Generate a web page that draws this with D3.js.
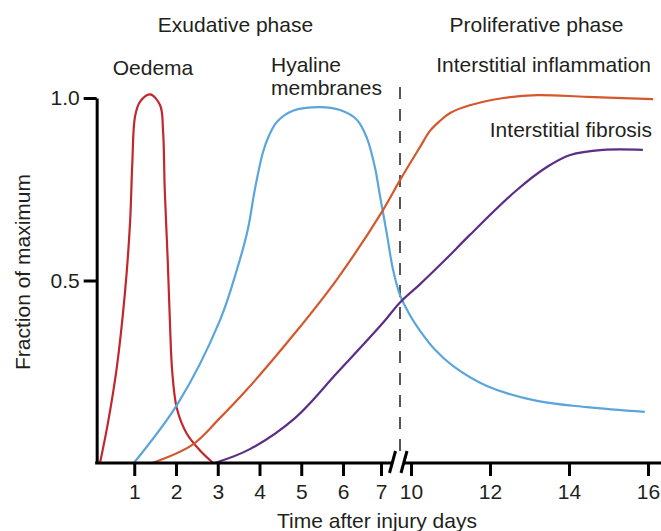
<!DOCTYPE html>
<html>
<head>
<meta charset="utf-8">
<title>Lung injury phases</title>
<script src="https://d3js.org/d3.v7.min.js"></script>
<style>
    body { margin: 0; background: #fff; }
    svg { display: block; font-family: "Liberation Sans", Arial, sans-serif; }
</style>
</head>
<body>
<script>

    // values: day after injury, fraction of maximum
    var oedemaDays = [0.18, 0.37, 0.58, 0.78, 0.90, 0.953, 1.02, 1.14, 1.38, 1.62, 1.69, 1.73, 1.80, 1.856, 1.91, 2.02, 2.26, 2.57, 2.89];
    var oedemaVals = [0, 0.11, 0.26, 0.47, 0.66, 0.82, 0.95, 0.99, 1.01, 0.98, 0.91, 0.75, 0.56, 0.38, 0.25, 0.15, 0.08, 0.035, 0];

    var hyalineDays = [0.99, 2.05, 3.05, 3.46, 3.72, 3.89, 4.08, 4.22, 4.42, 4.80, 5.45, 5.93, 6.37, 6.63, 6.84, 6.97, 7.6, 8.2, 8.9, 9.9, 10.23, 10.61, 11.06, 11.92, 13.19, 14.46, 15.92];
    var hyalineVals = [0, 0.164, 0.39, 0.53, 0.64, 0.75, 0.85, 0.895, 0.935, 0.965, 0.975, 0.967, 0.94, 0.89, 0.81, 0.734, 0.625, 0.53, 0.46, 0.405, 0.362, 0.31, 0.266, 0.211, 0.17, 0.153, 0.14];

    var inflamDays = [1.43, 2.38, 3.05, 3.65, 4.85, 5.86, 7.2, 8.9, 10.23, 10.48, 10.73, 10.99, 11.49, 12.34, 13.19, 14.46, 16.13];
    var inflamVals = [0, 0.049, 0.123, 0.195, 0.356, 0.504, 0.693, 0.775, 0.866, 0.91, 0.937, 0.959, 0.98, 1.0, 1.008, 1.003, 0.997];

    var fibrosisDays = [2.93, 3.77, 4.85, 5.86, 7.2, 8.9, 10.23, 10.86, 11.49, 12.68, 13.44, 14.03, 14.86, 15.87];
    var fibrosisVals = [0, 0.038, 0.123, 0.247, 0.384, 0.44, 0.49, 0.556, 0.625, 0.748, 0.811, 0.844, 0.858, 0.858];

    var xTicks = [1, 2, 3, 4, 5, 6, 7, 10, 12, 14, 16];
    var yTicks = [0.5, 1.0];

    var phaseDay = 8.9;            // dashed line between the two phases
    var breakFrom = 8.15, breakTo = 9.3;   // axis break marks

    var width = 661,
        height = 531;

    var svg = d3.select("body")
        .append("svg")
        .attr("width", width)
        .attr("height", height);

    // broken time axis: days 7-10 are squeezed together
    var x = d3.scaleLinear()
        .domain([0, 6, 7, 10, 16])
        .range([92.5, 343, 381, 411, 648]);

    var y = d3.scaleLinear()
        .domain([0, 1])
        .range([463, 98]);

    var x0 = x(0.1);

    var series = [
        {days: oedemaDays, vals: oedemaVals, color: "#c1272d"},
        {days: hyalineDays, vals: hyalineVals, color: "#5aa6dc"},
        {days: inflamDays, vals: inflamVals, color: "#d4582c"},
        {days: fibrosisDays, vals: fibrosisVals, color: "#5c2d86"}
    ];

    var line = d3.line()
        .x(function (d) { return x(d[0]); })
        .y(function (d) { return y(d[1]); })
        .curve(d3.curveCatmullRom.alpha(0.5));

    // dashed phase divider
    svg.append("line")
        .attr("x1", x(phaseDay)).attr("x2", x(phaseDay))
        .attr("y1", y(1.03)).attr("y2", y(0.027))
        .attr("stroke", "#555")
        .attr("stroke-width", 2)
        .attr("stroke-dasharray", "12,10");

    svg.append("g").selectAll("path")
        .data(series)
        .enter()
        .append("path")
        .attr("fill", "none")
        .attr("stroke", function (d) { return d.color; })
        .attr("stroke-width", 2.2)
        .attr("d", function (d) { return line(d3.zip(d.days, d.vals)); });

    // y axis
    var yAxis = svg.append("g")
        .attr("transform", "translate(" + x0 + ",0)")
        .call(d3.axisLeft(y).tickValues(yTicks).tickFormat(d3.format(".1f"))
            .tickSizeInner(13).tickSizeOuter(0).tickPadding(4));

    // x axis, domain line drawn by hand because of the break
    var xAxis = svg.append("g")
        .attr("transform", "translate(0," + y(0) + ")")
        .call(d3.axisBottom(x).tickValues(xTicks).tickFormat(d3.format("d"))
            .tickSizeInner(13).tickSizeOuter(0).tickPadding(8));
    xAxis.select(".domain").remove();

    xAxis.append("line")
        .attr("x1", x0 - 1.5).attr("x2", x(breakFrom))
        .attr("stroke", "#000");
    xAxis.append("line")
        .attr("x1", x(breakTo)).attr("x2", width)
        .attr("stroke", "#000");
    xAxis.selectAll(".brk")
        .data([breakFrom, breakTo])
        .enter()
        .append("line")
        .attr("class", "brk")
        .attr("x1", function (d) { return x(d) - 3; })
        .attr("x2", function (d) { return x(d) + 3; })
        .attr("y1", 10).attr("y2", -12)
        .attr("stroke", "#000");

    [yAxis, xAxis].forEach(function (g) {
        g.attr("font-size", 21)
            .attr("font-family", "\"Liberation Sans\", Arial, sans-serif");
        g.selectAll("path, line").attr("stroke", "#000").attr("stroke-width", 3);
        g.selectAll("text").attr("fill", "#231f20");
    });

    // annotations
    var labels = [
        {t: "Exudative phase", x: 235.5, y: 32, a: "middle"},
        {t: "Proliferative phase", x: 536.5, y: 32, a: "middle"},
        {t: "Oedema", x: 153, y: 75, a: "middle"},
        {t: "Hyaline", x: 271, y: 72, a: "start"},
        {t: "membranes", x: 271, y: 95, a: "start"},
        {t: "Interstitial inflammation", x: 651, y: 72, a: "end"},
        {t: "Interstitial fibrosis", x: 652, y: 137, a: "end"},
        {t: "Time after injury days", x: 377, y: 528, a: "middle"}
    ];

    svg.append("g").selectAll("text")
        .data(labels)
        .enter()
        .append("text")
        .attr("x", function (d) { return d.x; })
        .attr("y", function (d) { return d.y; })
        .attr("text-anchor", function (d) { return d.a; })
        .attr("font-size", 21)
        .attr("fill", "#231f20")
        .text(function (d) { return d.t; });

    svg.append("text")
        .attr("transform", "translate(30,272) rotate(-90)")
        .attr("text-anchor", "middle")
        .attr("font-size", 21)
        .attr("fill", "#231f20")
        .text("Fraction of maximum");

</script>
</body>
</html>
